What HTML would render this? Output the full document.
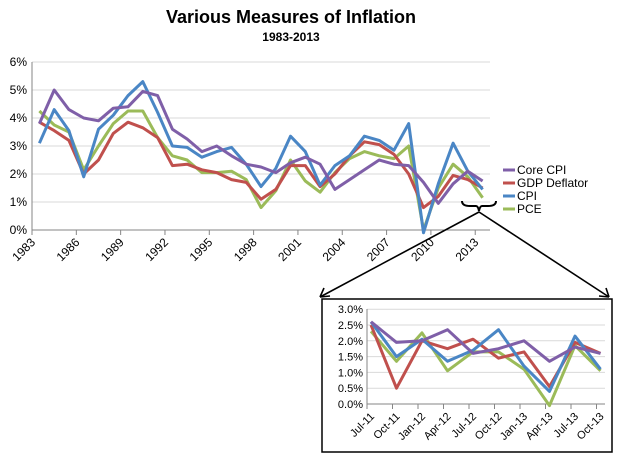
<!DOCTYPE html><html><head><style>body{margin:0;background:#fff}svg{display:block;font-family:"Liberation Sans",sans-serif}</style></head><body>
<svg width="617" height="457" xmlns="http://www.w3.org/2000/svg">
<text x="291" y="23" text-anchor="middle" font-weight="bold" font-size="18">Various Measures of Inflation</text>
<text x="291" y="41" text-anchor="middle" font-weight="bold" font-size="12">1983-2013</text>
<g id="main"></g>
<g font-size="12" fill="#000">
<line x1="503" y1="170" x2="515" y2="170" stroke="#7f5fa8" stroke-width="3"/><text x="517" y="174">Core CPI</text>
<line x1="503" y1="183" x2="515" y2="183" stroke="#c0504d" stroke-width="3"/><text x="517" y="187">GDP Deflator</text>
<line x1="503" y1="196" x2="515" y2="196" stroke="#4a86c5" stroke-width="3"/><text x="517" y="200">CPI</text>
<line x1="503" y1="209" x2="515" y2="209" stroke="#9bbb59" stroke-width="3"/><text x="517" y="213">PCE</text>
</g>
<path d="M462,201 q0,5 8,5 h6 q2,0 3,5 q1,-5 3,-5 h6 q8,0 8,-5" fill="none" stroke="#000" stroke-width="2"/>
<line x1="479" y1="212" x2="320" y2="297" stroke="#000" stroke-width="1.6"/>
<line x1="479" y1="212" x2="609" y2="297" stroke="#000" stroke-width="1.6"/>
<path d="M320,297 l4,-9 M320,297 l10,-1" stroke="#000" stroke-width="1.6"/>
<path d="M609,297 l-10,-1 M609,297 l-3,-9" stroke="#000" stroke-width="1.6"/>
<rect x="322" y="299" width="290" height="153" fill="#fff" stroke="#000" stroke-width="1.5"/>
<g id="inset"></g>
</svg>
<script>
const NS="http://www.w3.org/2000/svg";
function el(p,t,a,txt){const e=document.createElementNS(NS,t);for(const k in a)e.setAttribute(k,a[k]);if(txt!=null)e.textContent=txt;p.appendChild(e);return e;}
const cols={core:"#7f5fa8",gdp:"#c0504d",cpi:"#4a86c5",pce:"#9bbb59"};
(function(){
const g=document.getElementById("main");const x0=32,x1=490,y0=230,s=28,n=31,w=(x1-x0)/n;
for(let i=0;i<=6;i++){const y=y0-i*s;if(i>0)el(g,"line",{x1:x0,x2:x1,y1:y,y2:y,stroke:"#d9d9d9"});el(g,"text",{x:x0-5,y:y+4,"text-anchor":"end","font-size":"12"},i+"%");}
el(g,"line",{x1:x0,x2:x0,y1:62,y2:y0,stroke:"#868686"});el(g,"line",{x1:x0,x2:x1,y1:y0,y2:y0,stroke:"#868686"});
for(let k=0;k<=10;k++){const x=x0+3*w*k;el(g,"line",{x1:x,x2:x,y1:y0,y2:y0+5,stroke:"#868686"});
el(g,"text",{x:x+4,y:y0+13,"text-anchor":"end","font-size":"12",transform:`rotate(-45 ${x+4} ${y0+13})`},1983+3*k);}
const d={
cpi:[3.1,4.3,3.55,1.9,3.6,4.1,4.8,5.3,4.2,3.0,2.95,2.6,2.8,2.95,2.35,1.55,2.2,3.35,2.8,1.6,2.3,2.65,3.35,3.2,2.85,3.8,-0.3,1.65,3.1,2.1,1.45],
gdp:[3.85,3.55,3.2,2.0,2.5,3.45,3.85,3.65,3.3,2.3,2.35,2.15,2.05,1.8,1.7,1.1,1.45,2.3,2.3,1.55,2.0,2.65,3.15,3.05,2.7,2.0,0.8,1.2,1.95,1.8,1.5],
pce:[4.25,3.75,3.5,2.15,3.0,3.8,4.25,4.25,3.3,2.65,2.5,2.05,2.05,2.1,1.8,0.8,1.4,2.5,1.75,1.35,2.05,2.55,2.8,2.65,2.55,3.0,0.0,1.5,2.35,1.9,1.15],
core:[3.8,5.0,4.3,4.0,3.9,4.35,4.4,4.95,4.8,3.6,3.25,2.8,3.0,2.65,2.35,2.25,2.05,2.4,2.6,2.35,1.45,1.8,2.15,2.5,2.35,2.3,1.7,0.95,1.65,2.1,1.75]};
for(const k of ["pce","gdp","cpi","core"]){el(g,"polyline",{fill:"none",stroke:cols[k],"stroke-width":"3","stroke-linejoin":"round",points:d[k].map((v,i)=>`${(x0+w*(i+0.5)).toFixed(1)},${(y0-Math.max(v,-0.1)*s).toFixed(1)}`).join(" ")});}
})();
(function(){
const g=document.getElementById("inset");const x0=367,x1=605,y0=404,s=31.6;
for(let i=0;i<=6;i++){const y=y0-i*s/2;if(i>0)el(g,"line",{x1:x0,x2:x1,y1:y,y2:y,stroke:"#d9d9d9"});el(g,"text",{x:x0-4,y:y+4,"text-anchor":"end","font-size":"11"},(i/2).toFixed(1)+"%");}
el(g,"line",{x1:x0,x2:x0,y1:309,y2:y0,stroke:"#868686"});el(g,"line",{x1:x0,x2:x1,y1:y0,y2:y0,stroke:"#868686"});
const labs=["Jul-11","Oct-11","Jan-12","Apr-12","Jul-12","Oct-12","Jan-13","Apr-13","Jul-13","Oct-13"];
labs.forEach((l,i)=>{const x=x0+25.5*i;el(g,"line",{x1:x,x2:x,y1:y0,y2:y0+5,stroke:"#868686"});
el(g,"text",{x:x+8,y:y0+13,"text-anchor":"end","font-size":"11",transform:`rotate(-45 ${x+8} ${y0+13})`},l);});
const d={cpi:[2.6,1.5,2.05,1.35,1.7,2.35,1.2,0.4,2.15,1.1],gdp:[2.5,0.5,2.0,1.75,2.05,1.45,1.65,0.55,1.95,1.6],
pce:[2.3,1.35,2.25,1.05,1.65,1.65,1.1,-0.05,1.85,1.05],core:[2.6,1.95,2.0,2.35,1.6,1.75,2.0,1.35,1.8,1.6]};
for(const k of ["pce","gdp","cpi","core"]){el(g,"polyline",{fill:"none",stroke:cols[k],"stroke-width":"3","stroke-linejoin":"round",points:d[k].map((v,i)=>`${(371+25.5*i).toFixed(1)},${(y0-v*s).toFixed(1)}`).join(" ")});}
})();
</script>
</body></html>
